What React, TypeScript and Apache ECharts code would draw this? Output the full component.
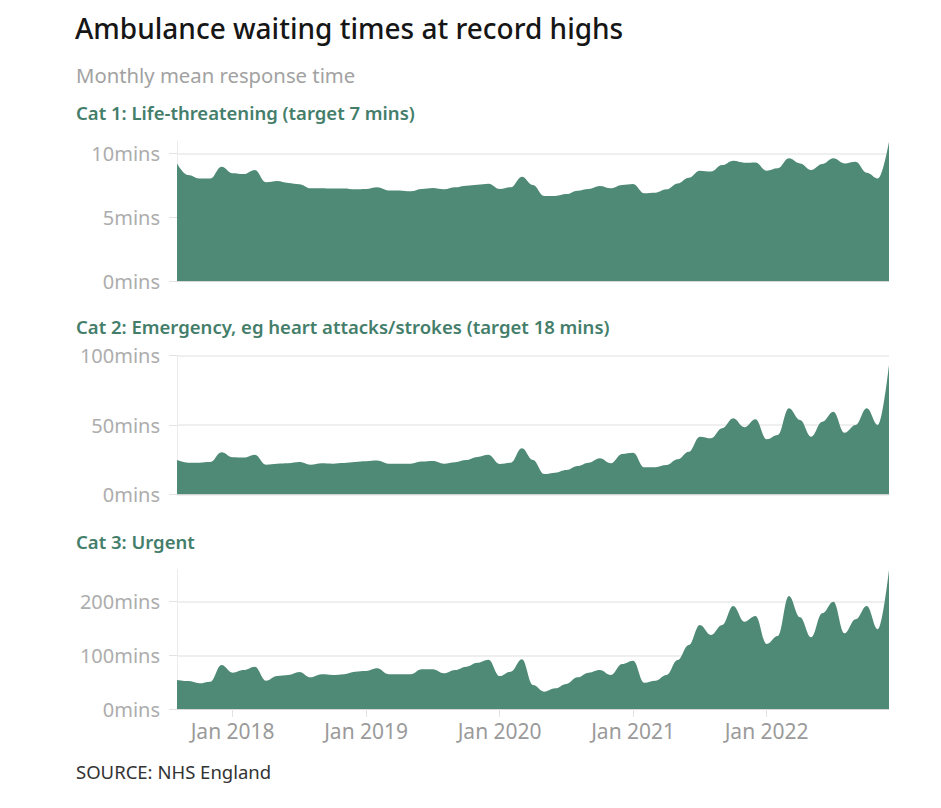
import React, { useEffect, useRef } from 'react';
import * as echarts from 'echarts';

const months = [
  'Aug 2017', 'Sep 2017', 'Oct 2017', 'Nov 2017', 'Dec 2017',
  'Jan 2018', 'Feb 2018', 'Mar 2018', 'Apr 2018', 'May 2018', 'Jun 2018', 'Jul 2018', 'Aug 2018', 'Sep 2018', 'Oct 2018', 'Nov 2018', 'Dec 2018',
  'Jan 2019', 'Feb 2019', 'Mar 2019', 'Apr 2019', 'May 2019', 'Jun 2019', 'Jul 2019', 'Aug 2019', 'Sep 2019', 'Oct 2019', 'Nov 2019', 'Dec 2019',
  'Jan 2020', 'Feb 2020', 'Mar 2020', 'Apr 2020', 'May 2020', 'Jun 2020', 'Jul 2020', 'Aug 2020', 'Sep 2020', 'Oct 2020', 'Nov 2020', 'Dec 2020',
  'Jan 2021', 'Feb 2021', 'Mar 2021', 'Apr 2021', 'May 2021', 'Jun 2021', 'Jul 2021', 'Aug 2021', 'Sep 2021', 'Oct 2021', 'Nov 2021', 'Dec 2021',
  'Jan 2022', 'Feb 2022', 'Mar 2022', 'Apr 2022', 'May 2022', 'Jun 2022', 'Jul 2022', 'Aug 2022', 'Sep 2022', 'Oct 2022', 'Nov 2022', 'Dec 2022',
];

// Cat 1: Life-threatening (mins)
const cat1 = [
  9.24, 8.33, 8.06, 8.06, 8.98,
  8.46, 8.4, 8.72, 7.75, 7.85, 7.7, 7.6, 7.28, 7.28, 7.26, 7.26, 7.2,
  7.23, 7.36, 7.12, 7.12, 7.05, 7.23, 7.3, 7.2, 7.36, 7.49, 7.56, 7.64,
  7.23, 7.36, 8.2, 7.54, 6.68, 6.68, 6.83, 7.1, 7.23, 7.46, 7.28, 7.54,
  7.62, 6.89, 6.94, 7.2, 7.67, 8.12, 8.67, 8.6, 9.11, 9.45, 9.3, 9.32,
  8.67, 8.85, 9.64, 9.24, 8.72, 9.19, 9.64, 9.24, 9.37, 8.51, 8.06, 10.95,
];

// Cat 2: Emergency (mins)
const cat2 = [
  24.7, 22.8, 22.8, 23.3, 30.3,
  26.7, 26.5, 28.6, 21.4, 22.1, 22.4, 23.3, 21.4, 22.4, 22.1, 22.6, 23.3,
  23.8, 24.3, 22.1, 22.1, 22.1, 23.6, 24.0, 22.1, 23.1, 24.7, 26.9, 28.5,
  21.9, 22.8, 33.2, 24.7, 14.6, 15.6, 17.5, 20.4, 22.8, 26.0, 22.4, 29.1,
  30.0, 19.5, 19.5, 21.1, 25.2, 30.7, 41.6, 40.4, 47.6, 54.8, 48.3, 54.1,
  39.7, 42.8, 62.0, 53.6, 41.6, 52.4, 59.6, 44.4, 50.0, 62.0, 50.0, 93.3,
];

// Cat 3: Urgent (mins)
const cat3 = [
  54, 52, 47.9, 51, 82,
  67.7, 72.7, 78.9, 52.8, 61.5, 63.4, 69, 59, 64.6, 63.4, 65, 69.6,
  70.8, 75.8, 65, 65, 64.6, 74, 74, 66.5, 72.7, 78.9, 86.3, 92,
  61.5, 69.6, 92.6, 44.7, 32.3, 38.5, 46.6, 59, 67.7, 72.7, 63.4, 83.9,
  90, 49, 52.8, 63.4, 91.3, 119.3, 156.6, 138, 156.6, 192, 162.8, 173.3,
  121.2, 136, 210.6, 170.9, 133.6, 178.4, 200, 141, 167.2, 192, 148.5, 259,
];

const cat1Ticks = [0, 5, 10];
const cat2Ticks = [0, 50, 100];
const cat3Ticks = [0, 100, 200];
const yMax = [11, 100, 260];

const titleText = 'Ambulance waiting times at record highs';
const subtitleText = 'Monthly mean response time';
const panelTitles = [
  'Cat 1: Life-threatening (target 7 mins)',
  'Cat 2: Emergency, eg heart attacks/strokes (target 18 mins)',
  'Cat 3: Urgent',
];
const sourceText = 'SOURCE: NHS England';

export default function App() {
  const ref = useRef<HTMLDivElement>(null);
  useEffect(() => {
    const chart = echarts.init(ref.current!, null, { renderer: 'svg' });
    const FONT = '"Noto Sans", "Open Sans", sans-serif';
    const AREA = '#4f8a77';
    const GREEN_TEXT = '#447e6b';
    const seriesData = [cat1, cat2, cat3];
    const ticks = [cat1Ticks, cat2Ticks, cat3Ticks];
    const grids = [
      { left: 177, right: 52, top: 141, height: 140 },
      { left: 177, right: 52, top: 355.7, height: 138.6 },
      { left: 177, right: 52, top: 569.5, height: 139.5 },
    ];
    const isJan = (_i: number, v: string) => String(v).startsWith('Jan');

    chart.setOption({
      animation: false,
      backgroundColor: '#ffffff',
      grid: grids.map((g) => ({ ...g, containLabel: false })),
      xAxis: grids.map((_, i) => ({
        gridIndex: i,
        type: 'category',
        data: months,
        boundaryGap: false,
        axisLine: { show: true, lineStyle: { color: '#d8d8d8', width: 1 } },
        axisTick: {
          show: i === 2,
          interval: isJan,
          length: 8,
          lineStyle: { color: '#e2e2e2' },
        },
        axisLabel: {
          show: i === 2,
          interval: isJan,
          color: '#9a9a9a',
          fontSize: 21,
          fontFamily: FONT,
          margin: 11,
        },
        splitLine: { show: false },
      })),
      yAxis: grids.map((_, i) => ({
        gridIndex: i,
        type: 'value',
        min: 0,
        max: yMax[i],
        axisLine: { show: true, lineStyle: { color: '#ececec', width: 1 } },
        axisTick: { show: true, length: 8, lineStyle: { color: '#e2e2e2' }, customValues: ticks[i] },
        axisLabel: {
          customValues: ticks[i],
          formatter: '{value}mins',
          color: '#adadad',
          fontSize: 20,
          fontFamily: FONT,
          margin: 17,
        },
        splitLine: { show: true, lineStyle: { color: '#efefef', width: 2 } },
      })),
      series: seriesData.map((d, i) => ({
        type: 'line',
        xAxisIndex: i,
        yAxisIndex: i,
        data: d,
        smooth: 0.4,
        smoothMonotone: 'x',
        showSymbol: false,
        symbol: 'none',
        lineStyle: { width: 0, color: AREA },
        areaStyle: { color: AREA, opacity: 1 },
        silent: true,
      })),
      graphic: [
        {
          type: 'text', x: 75, y: 27.5,
          style: { text: titleText, fontSize: 28, fontWeight: 500, fontFamily: FONT, fill: '#161616', verticalAlign: 'middle' },
        },
        {
          type: 'text', x: 76, y: 75,
          style: { text: subtitleText, fontSize: 20.3, fontWeight: 400, fontFamily: FONT, fill: '#a2a2a2', verticalAlign: 'middle' },
        },
        ...panelTitles.map((t, i) => ({
          type: 'text', x: 76, y: [112.5, 326.5, 541.5][i],
          style: { text: t, fontSize: 18.5, fontWeight: 600, fontFamily: FONT, fill: GREEN_TEXT, verticalAlign: 'middle' },
        })),
        {
          type: 'text', x: 76, y: 771,
          style: { text: sourceText, fontSize: 18.5, fontWeight: 400, fontFamily: FONT, fill: '#333333', verticalAlign: 'middle' },
        },
      ],
    });
    return () => chart.dispose();
  }, []);
  return <div ref={ref} style={{ position: 'fixed', left: 0, top: 0, width: 941, height: 808 }} />;
}
